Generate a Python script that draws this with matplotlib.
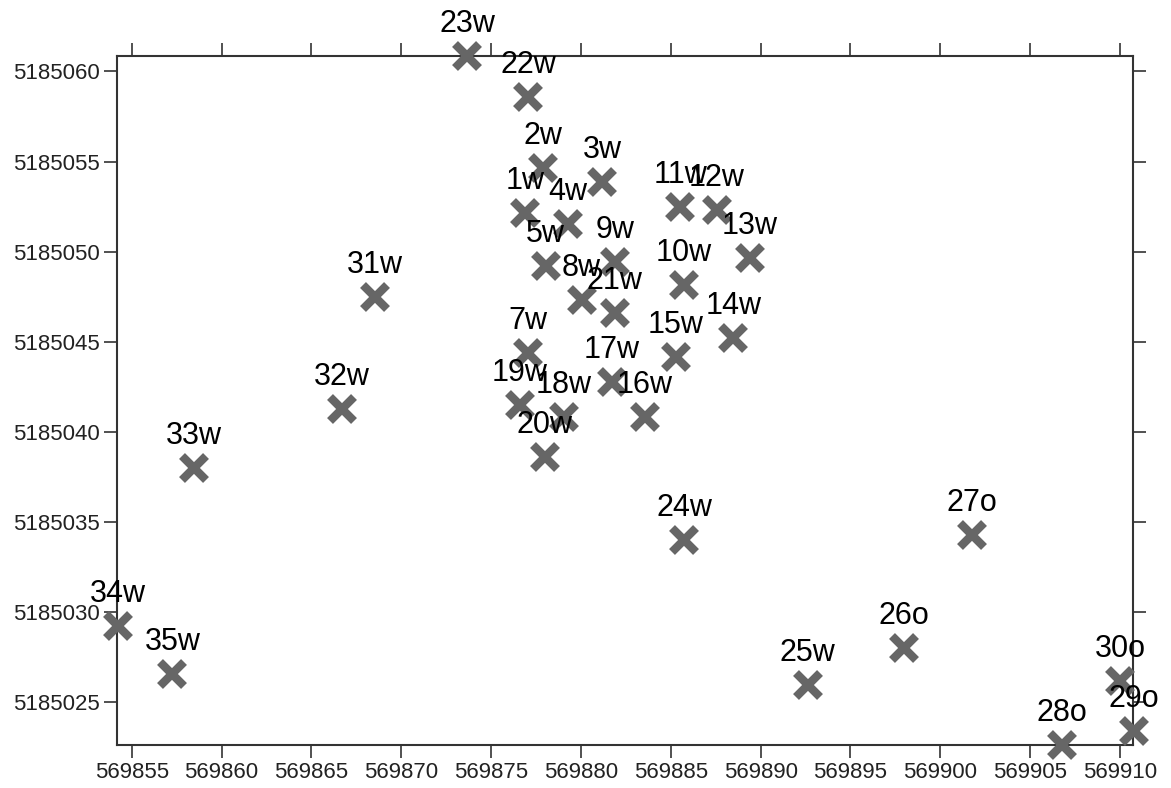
import matplotlib
matplotlib.use("Agg")
from matplotlib import pyplot as plt

# well positions (easting / northing)
labels = ['23w', '22w', '2w', '3w', '1w', '4w', '11w', '12w', '5w', '9w',
          '13w', '10w', '8w', '21w', '31w', '14w', '7w', '15w', '17w', '19w',
          '32w', '18w', '16w', '20w', '33w', '24w', '27o', '34w', '26o', '35w',
          '30o', '25w', '29o', '28o']
east = [569873.66, 569877.07, 569877.89, 569881.20, 569876.90, 569879.28,
        569885.54, 569887.57, 569878.04, 569881.89, 569889.39, 569885.72,
        569880.04, 569881.89, 569868.54, 569888.48, 569877.07, 569885.29,
        569881.71, 569876.59, 569866.69, 569879.06, 569883.56, 569877.98,
        569858.47, 569885.75, 569901.74, 569854.25, 569897.99, 569857.27,
        569910.00, 569892.61, 569910.78, 569906.75]
north = [5185060.85, 5185058.60, 5185054.66, 5185053.86, 5185052.14, 5185051.53,
         5185052.49, 5185052.32, 5185049.22, 5185049.40, 5185049.63, 5185048.13,
         5185047.32, 5185046.58, 5185047.47, 5185045.19, 5185044.36, 5185044.14,
         5185042.76, 5185041.49, 5185041.27, 5185040.84, 5185040.84, 5185038.62,
         5185038.01, 5185034.00, 5185034.28, 5185029.23, 5185028.03, 5185026.54,
         5185026.20, 5185025.98, 5185023.41, 5185022.63]

xticks = list(range(569855, 569911, 5))
yticks = list(range(5185025, 5185061, 5))

plt.rcParams['font.family'] = ['Liberation Sans', 'DejaVu Sans']

fig = plt.figure(figsize=(11.71, 7.88), dpi=100)
ax = fig.add_axes([0.0997, 0.0546, 0.8681, 0.8747])

ax.plot(east, north, linestyle='none', marker='x', markersize=17,
        markeredgewidth=6, color='#666666', clip_on=False, zorder=3)

for lab, x, y in zip(labels, east, north):
    ax.annotate(lab, (x, y), xytext=(0, 24), textcoords='offset pixels',
                ha='center', va='baseline', fontsize=22, color='black',
                annotation_clip=False, zorder=4)

ax.set_xlim(569854.17, 569910.74)
ax.set_ylim(5185022.63, 5185060.87)
ax.set_xticks(xticks)
ax.set_yticks(yticks)
ax.ticklabel_format(useOffset=False, style='plain')

for s in ax.spines.values():
    s.set_linewidth(1.5)
    s.set_color('#333333')

ax.tick_params(direction='out', length=9.5, width=1.2, color='#333333',
               top=True, right=True, labeltop=False, labelright=False,
               labelsize=16, labelcolor='#222222', pad=3)

fig.savefig('out.png', dpi=100)
